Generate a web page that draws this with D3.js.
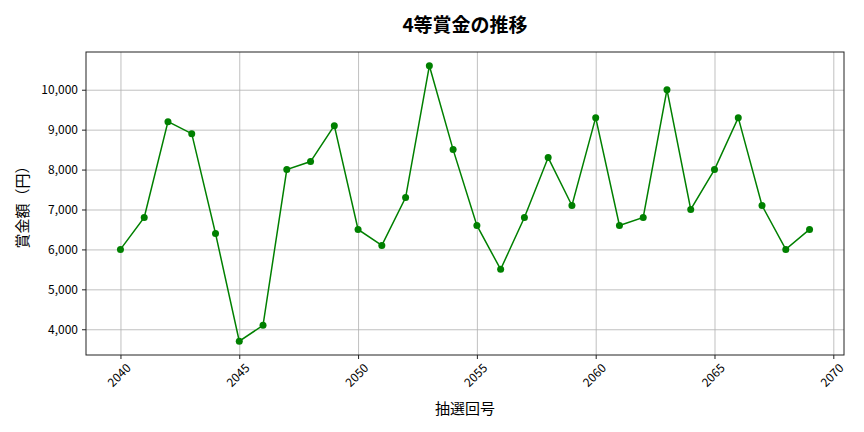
<!DOCTYPE html>
<html>
<head>
<meta charset="utf-8">
<script src="https://cdn.jsdelivr.net/npm/d3@7"></script>
<style>
	body { margin: 0; background: #fff; }
	svg text { font-family: "Noto Sans CJK JP", "Noto Sans", sans-serif; fill: #000; }
	.grid line { stroke: #b0b0b0; stroke-width: 0.8; }
	.grid path { stroke: none; }
</style>
</head>
<body>
<div id="chart"></div>
<script>
var draws = [2040, 2041, 2042, 2043, 2044, 2045, 2046, 2047, 2048, 2049,
	2050, 2051, 2052, 2053, 2054, 2055, 2056, 2057, 2058, 2059,
	2060, 2061, 2062, 2063, 2064, 2065, 2066, 2067, 2068, 2069];
var prizes = [6000, 6800, 9200, 8900, 6400, 3700, 4100, 8000, 8200, 9100,
	6500, 6100, 7300, 10600, 8500, 6600, 5500, 6800, 8300, 7100,
	9300, 6600, 6800, 10000, 7000, 8000, 9300, 7100, 6000, 6500];
var xTicks = [2040, 2045, 2050, 2055, 2060, 2065, 2070];
var yTicks = [4000, 5000, 6000, 7000, 8000, 9000, 10000];

var margin = {top: 52, right: 20, bottom: 77, left: 86};
var fullW = 864, fullH = 432;
var width = fullW - margin.left - margin.right;
var height = fullH - margin.top - margin.bottom;

// matplotlib-like 5% padding
var xPad = (draws[draws.length - 1] - draws[0]) * 0.05;
var x = d3.scaleLinear()
	.domain([draws[0] - xPad, draws[draws.length - 1] + xPad])
	.range([0, width]);
var yMin = d3.min(prizes), yMax = d3.max(prizes);
var yPad = (yMax - yMin) * 0.05;
var y = d3.scaleLinear()
	.domain([yMin - yPad, yMax + yPad])
	.range([height, 0]);

var svg = d3.select('#chart')
	.append('svg')
	.attr('width', fullW)
	.attr('height', fullH)
	.append('g')
	.attr('transform', 'translate(' + margin.left + ',' + margin.top + ')');

// grid
svg.append('g')
	.attr('class', 'grid')
	.attr('transform', 'translate(0,' + height + ')')
	.call(d3.axisBottom(x).tickValues(xTicks).tickSize(-height).tickFormat(''));
svg.append('g')
	.attr('class', 'grid')
	.call(d3.axisLeft(y).tickValues(yTicks).tickSize(-width).tickFormat(''));

// line + markers
var line = d3.line()
	.x(function(d, i) { return x(draws[i]); })
	.y(function(d) { return y(d); });

svg.append('path')
	.datum(prizes)
	.attr('d', line)
	.style('fill', 'none')
	.style('stroke', '#008000')
	.style('stroke-width', 1.5);

svg.selectAll('.dot')
	.data(prizes)
	.enter()
	.append('circle')
	.attr('class', 'dot')
	.attr('r', 3.5)
	.attr('cx', function(d, i) { return x(draws[i]); })
	.attr('cy', function(d) { return y(d); })
	.style('fill', '#008000');

// frame
svg.append('rect')
	.attr('width', width)
	.attr('height', height)
	.style('fill', 'none')
	.style('stroke', '#222')
	.style('stroke-width', 1);

// axes
var xAxis = svg.append('g')
	.attr('transform', 'translate(0,' + height + ')')
	.call(d3.axisBottom(x).tickValues(xTicks).tickSize(4).tickPadding(4).tickFormat(d3.format('d')));
xAxis.select('.domain').remove();
xAxis.selectAll('line').style('stroke', '#222');
xAxis.selectAll('text')
	.style('font-size', '12px')
	.style('text-anchor', 'middle')
	.attr('dy', null)
	.attr('y', 0)
	.attr('transform', 'translate(-1,21) rotate(-45)')
	.attr('dominant-baseline', 'middle');

var yAxis = svg.append('g')
	.call(d3.axisLeft(y).tickValues(yTicks).tickSize(4).tickPadding(4).tickFormat(d3.format(',')));
yAxis.select('.domain').remove();
yAxis.selectAll('line').style('stroke', '#222');
yAxis.selectAll('text').style('font-size', '12px');

// labels
svg.append('text')
	.attr('x', width / 2)
	.attr('y', -20)
	.style('text-anchor', 'middle')
	.style('font-size', '19px')
	.style('font-weight', 'bold')
	.text('4等賞金の推移');

svg.append('text')
	.attr('x', width / 2)
	.attr('y', height + 59)
	.style('text-anchor', 'middle')
	.style('font-size', '15px')
	.text('抽選回号');

svg.append('text')
	.attr('transform', 'rotate(-90)')
	.attr('x', -height / 2)
	.attr('y', -margin.left + 28)
	.style('text-anchor', 'middle')
	.style('font-size', '15px')
	.text('賞金額（円）');
</script>
</body>
</html>
